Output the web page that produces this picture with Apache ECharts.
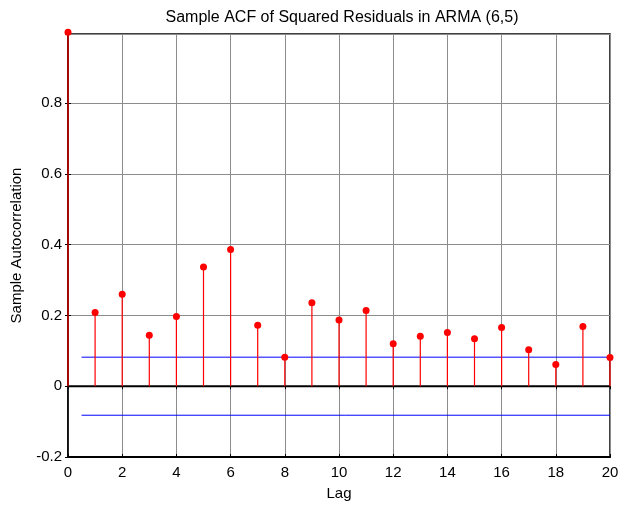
<!DOCTYPE html>
<html>
<head>
<meta charset="utf-8">
<script src="https://cdn.jsdelivr.net/npm/echarts@6/dist/echarts.min.js"></script>
<style>
html,body{margin:0;padding:0;background:#fff;}
#chart{width:622px;height:506px;}
</style>
</head>
<body>
<div id="chart"></div>
<script>
var lags = [0,1,2,3,4,5,6,7,8,9,10,11,12,13,14,15,16,17,18,19,20];
var acfValues = [1.0,0.208,0.260,0.144,0.197,0.337,0.386,0.172,0.082,0.236,0.187,0.214,0.120,0.141,0.152,0.134,0.166,0.103,0.061,0.169,0.081];
var confBound = 0.082;
var boundStart = 0.5;
var boundEnd = 20;
var xTicks = [0,2,4,6,8,10,12,14,16,18,20];
var yTicks = [-0.2,0,0.2,0.4,0.6,0.8];

var stemData = lags.map(function(l,i){ return [l, acfValues[i]]; });
var font = 'Liberation Sans, Arial, sans-serif';

var chart = echarts.init(document.getElementById('chart'));
var option = {
  animation: false,
  backgroundColor: '#fff',
  title: {
    text: 'Sample ACF of Squared Residuals in ARMA (6,5)',
    left: 337, top: 5, textAlign: 'center',
    textStyle: {fontFamily: font, fontSize: 16, fontWeight: 'normal', color: '#000'}
  },
  grid: {left: 68, right: 12, top: 34, bottom: 45, show: true, borderColor: '#000', borderWidth: 1.5, containLabel: false},
  xAxis: [{
    type: 'value', min: 0, max: 20, interval: 2, position: 'bottom',
    name: 'Lag', nameLocation: 'middle', nameGap: 29,
    nameTextStyle: {fontFamily: font, fontSize: 15, color: '#000'},
    axisLine: {onZero: false, lineStyle: {color: '#000', width: 2}},
    axisTick: {inside: true, length: 3, lineStyle: {color: '#000'}},
    axisLabel: {fontFamily: font, fontSize: 15, color: '#000', margin: 8},
    splitLine: {show: true, lineStyle: {color: '#8c8c8c', width: 1}}
  },{
    type: 'value', min: 0, max: 20, interval: 2, position: 'top',
    axisLine: {show: false},
    axisTick: {inside: true, length: 3, lineStyle: {color: '#000'}},
    axisLabel: {show: false}, splitLine: {show: false}
  }],
  yAxis: [{
    type: 'value', min: -0.2, max: 0.995, interval: 0.2, position: 'left',
    name: 'Sample Autocorrelation', nameLocation: 'middle', nameGap: 44,
    nameTextStyle: {fontFamily: font, fontSize: 15, color: '#000'},
    axisLine: {show: true, lineStyle: {color: '#000', width: 1.5}},
    axisTick: {inside: true, length: 3, lineStyle: {color: '#000'}},
    axisLabel: {fontFamily: font, fontSize: 15, color: '#000', margin: 6, showMaxLabel: false,
      formatter: function(v){ var r = Math.round(v*10)/10; if (r > 0.85) return ''; return r === 0 ? '0' : String(r); }},
    splitLine: {show: true, lineStyle: {color: '#8c8c8c', width: 1}}
  },{
    type: 'value', min: -0.2, max: 0.995, interval: 0.2, position: 'right',
    axisLine: {show: false},
    axisTick: {inside: true, length: 3, lineStyle: {color: '#000'}},
    axisLabel: {show: false}, splitLine: {show: false}
  }],
  series: [
    {
      type: 'line', data: [[0,0],[20,0]], symbol: 'none', silent: true,
      lineStyle: {color: '#000', width: 2}, z: 3
    },
    {
      type: 'line', data: [[boundStart, confBound],[boundEnd, confBound]], symbol: 'none',
      lineStyle: {color: '#0000ff', width: 1}, z: 4
    },
    {
      type: 'line', data: [[boundStart, -confBound],[boundEnd, -confBound]], symbol: 'none',
      lineStyle: {color: '#0000ff', width: 1}, z: 4
    },
    {
      type: 'custom', z: 5,
      renderItem: function(params, api){
        var p0 = api.coord([api.value(0), 0]);
        var p1 = api.coord([api.value(0), api.value(1)]);
        return {type: 'line', shape: {x1: p0[0], y1: p0[1], x2: p1[0], y2: p1[1]},
          style: {stroke: '#ff0000', lineWidth: 1.2}};
      },
      data: stemData
    },
    {
      type: 'scatter', data: stemData, symbol: 'circle', symbolSize: 7,
      itemStyle: {color: '#ff0000', opacity: 1}, z: 6, clip: false
    }
  ]
};
chart.setOption(option);
</script>
</body>
</html>
